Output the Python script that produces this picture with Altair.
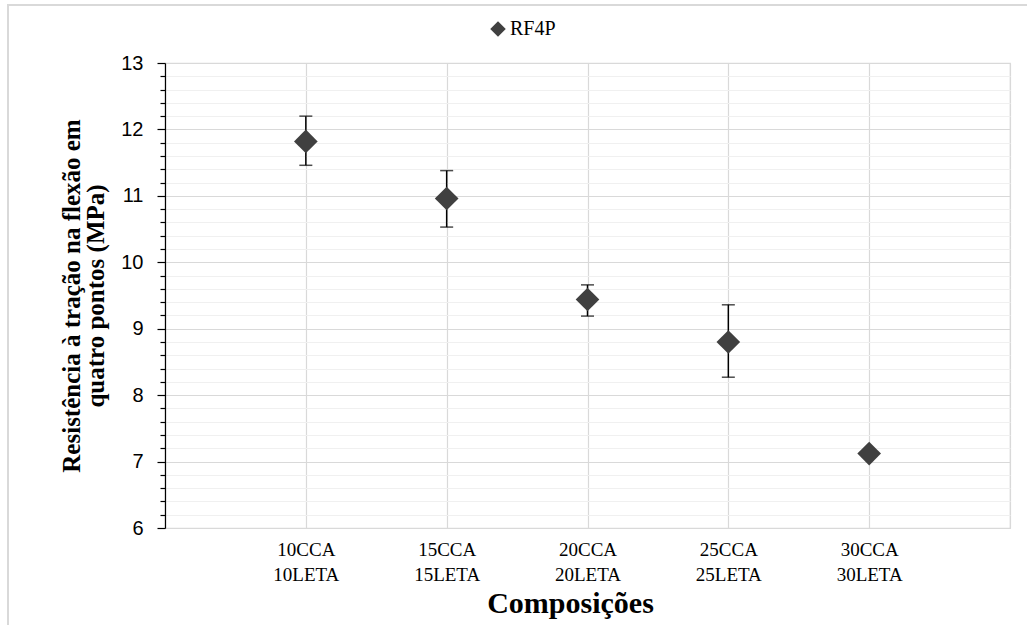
import altair as alt
import pandas as pd

# ---- data ----
categories = ["10CCA|10LETA", "15CCA|15LETA", "20CCA|20LETA", "25CCA|25LETA", "30CCA|30LETA"]
positions = [1, 2, 3, 4, 5]
means = [11.82, 10.96, 9.44, 8.80, 7.12]
err_high = [12.20, 11.38, 9.66, 9.36, 7.12]
err_low = [11.46, 10.53, 9.19, 8.27, 7.12]
series = ["RF4P"] * 5

y_ticks = [6, 6.2, 6.4, 6.6, 6.8, 7, 7.2, 7.4, 7.6, 7.8, 8, 8.2, 8.4, 8.6, 8.8,
           9, 9.2, 9.4, 9.6, 9.8, 10, 10.2, 10.4, 10.6, 10.8, 11, 11.2, 11.4,
           11.6, 11.8, 12, 12.2, 12.4, 12.6, 12.8, 13]
x_ticks = [0, 1, 2, 3, 4, 5, 6]

df = pd.DataFrame({
    "pos": positions,
    "cat": categories,
    "mean": means,
    "hi": err_high,
    "lo": err_low,
    "series": series,
})

FONT = "Liberation Serif"
W, H = 845, 465

cat_js = "[" + ",".join("'" + c + "'" for c in categories) + "]"
x_label_expr = (
    "datum.value >= 1 && datum.value <= 5 ? split(" + cat_js + "[datum.value - 1], '|') : ''"
)
is_major = "abs(datum.value - round(datum.value)) < 0.01"

x_scale = alt.Scale(domain=[0, 6], nice=False, zero=False)
y_scale = alt.Scale(domain=[6, 13], nice=False, zero=False)

x_enc = alt.X(
    "pos:Q",
    scale=x_scale,
    axis=alt.Axis(
        values=x_ticks,
        tickCount=20,
        labelExpr=x_label_expr,
        labelFont=FONT,
        labelFontSize=19,
        labelColor="#000000",
        labelLineHeight=25,
        labelPadding=12,
        ticks=False,
        domain=False,
        grid=True,
        gridColor="#d9d9d9",
        gridWidth=1.2,
        title="Composições",
        titleFont=FONT,
        titleFontSize=30,
        titleFontWeight="bold",
        titleColor="#000000",
        titleX=405,
        titleY=60,
        titleAlign="center",
        titleBaseline="top",
    ),
)

y_enc = alt.Y(
    "lo:Q",
    scale=y_scale,
    axis=alt.Axis(
        values=y_ticks,
        tickCount=100,
        format=".0f",
        labelExpr=is_major + " ? datum.label : ''",
        labelFont="Liberation Sans",
        labelFontSize=20,
        labelColor="#000000",
        labelPadding=14,
        labelOverlap=False,
        domain=True,
        domainColor="#000000",
        domainWidth=1.2,
        ticks=True,
        tickColor="#000000",
        tickWidth=1.2,
        tickSize={"condition": {"test": is_major, "value": 8}, "value": 5},
        grid=True,
        gridColor={"condition": {"test": is_major, "value": "#d9d9d9"}, "value": "#f0f0f0"},
        gridWidth=1.2,
        title=["Resistência à tração na flexão em", "quatro pontos (MPa)"],
        titleFont=FONT,
        titleFontSize=25,
        titleFontWeight="bold",
        titleColor="#000000",
        titleLineHeight=24,
        titleX=-94,
        titleY=H / 2,
        titleAngle=270,
        titleAlign="center",
        titleBaseline="middle",
    ),
)

base = alt.Chart(df)

frame = base.mark_rect(fill=None, stroke="#d9d9d9", strokeWidth=1.5, clip=False).encode(
    x=alt.value(-157), x2=alt.value(W + 40), y=alt.value(-58), y2=alt.value(H + 120)
)

rule = base.mark_rule(color="#000000", strokeWidth=1.5).encode(
    x=x_enc, y=y_enc, y2="hi:Q"
)
cap_hi = base.mark_tick(color="#000000", thickness=1.5, size=13, orient="horizontal").encode(
    x=alt.X("pos:Q"), y=alt.Y("hi:Q")
)
cap_lo = base.mark_tick(color="#000000", thickness=1.5, size=13, orient="horizontal").encode(
    x=alt.X("pos:Q"), y=alt.Y("lo:Q")
)

points = base.mark_point(shape="diamond", filled=True, size=560, opacity=1).encode(
    x=alt.X("pos:Q"),
    y=alt.Y("mean:Q"),
    color=alt.Color(
        "series:N",
        scale=alt.Scale(domain=["RF4P"], range=["#404040"]),
        legend=alt.Legend(
            title=None,
            orient="none",
            legendX=323,
            legendY=-44,
            labelFont=FONT,
            labelFontSize=20,
            labelColor="#000000",
            symbolType="diamond",
            symbolSize=240,
            symbolStrokeWidth=0,
            labelOffset=2,
        ),
    ),
)

chart = (
    alt.layer(frame, rule, cap_hi, cap_lo, points)
    .properties(
        width=W,
        height=H,
        autosize=alt.AutoSizeParams(type="none"),
        padding={"left": 165, "top": 63, "right": 17, "bottom": 97},
        background="#ffffff",
    )
    .configure(font=FONT)
    .configure_view(stroke="#d9d9d9", strokeWidth=1.2)
)

chart.save("out.html", embed_options={"renderer": "svg", "actions": False})
